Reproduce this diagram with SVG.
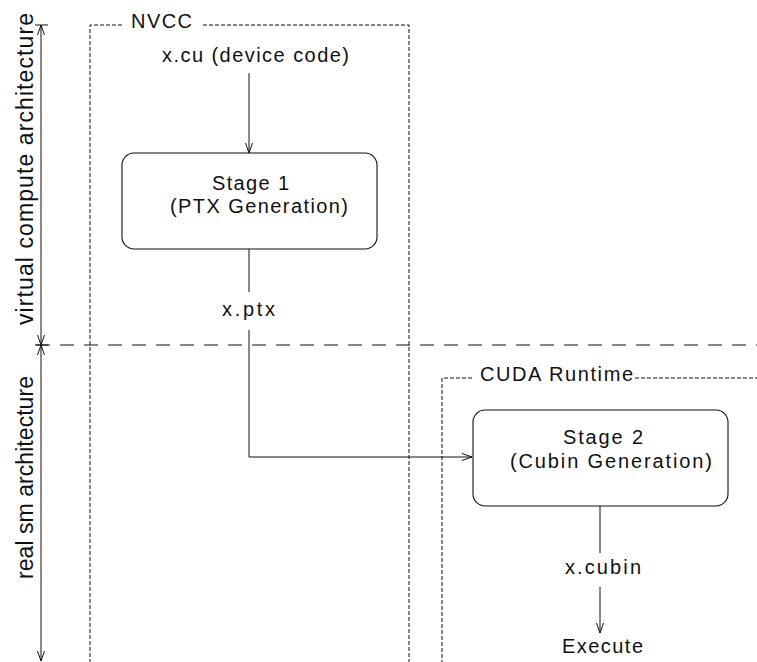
<svg xmlns="http://www.w3.org/2000/svg" width="757" height="662" viewBox="0 0 757 662">
<style>
.t{font-family:"Liberation Sans",Arial,sans-serif;font-size:20px;fill:#111}
.v{font-family:"Liberation Sans",Arial,sans-serif;font-size:23px;fill:#111}
.box{fill:#fff;stroke:#111;stroke-width:1.1}
.fine{fill:none;stroke:#111;stroke-width:1;stroke-dasharray:4 2}
.sep{fill:none;stroke:#111;stroke-width:1.2;stroke-dasharray:14 10}
.c{fill:none;stroke:#111;stroke-width:1}
</style>
<defs>
<marker id="ah" markerUnits="userSpaceOnUse" markerWidth="12" markerHeight="10" viewBox="-1 -5 12 10" refX="10" refY="0" orient="auto-start-reverse">
<path d="M0,-3.5 L10,0 L0,3.5" fill="none" stroke="#111" stroke-width="1"/>
</marker>
</defs>
<rect width="757" height="662" fill="#fff"/>

<g id="separator">
<line class="sep" x1="36" y1="345" x2="757" y2="345"/>
</g>

<g id="nvcc-group">
<path class="fine" d="M122,25 H90 V662"/>
<path class="fine" d="M203,25 H409 V662"/>
<text class="t" x="131" y="28" textLength="61" font-size="19">NVCC</text>
</g>

<g id="cuda-runtime-group">
<path class="fine" d="M472,378 H442 V662"/>
<path class="fine" d="M635,378 H757"/>
<text class="t" x="480" y="381" textLength="153">CUDA Runtime</text>
</g>

<g id="axis">
<line class="c" x1="35" y1="25" x2="48" y2="25"/>
<line class="c" x1="35" y1="345" x2="48" y2="345"/>
<line class="c" x1="41" y1="25" x2="41" y2="345" marker-start="url(#ah)" marker-end="url(#ah)"/>
<line class="c" x1="41" y1="345" x2="41" y2="661" marker-start="url(#ah)" marker-end="url(#ah)"/>
<text class="v" transform="translate(33,325) rotate(-90)" textLength="312">virtual compute architecture</text>
<text class="v" transform="translate(33,579) rotate(-90)" textLength="203">real sm architecture</text>
</g>

<g id="xcu">
<text class="t" x="162" y="62" textLength="187">x.cu (device code)</text>
</g>

<g id="stage1">
<rect class="box" x="122" y="153" width="255" height="96" rx="12"/>
<text class="t" x="212" y="190" textLength="77">Stage 1</text>
<text class="t" x="170" y="213" textLength="178">(PTX Generation)</text>
</g>

<g id="xptx">
<text class="t" x="222" y="316" textLength="53">x.ptx</text>
</g>

<g id="stage2">
<rect class="box" x="473" y="410" width="255" height="96" rx="12"/>
<text class="t" x="563" y="444" textLength="80">Stage 2</text>
<text class="t" x="510" y="468" textLength="202">(Cubin Generation)</text>
</g>

<g id="xcubin">
<text class="t" x="565" y="574" textLength="76">x.cubin</text>
</g>

<g id="execute">
<text class="t" x="562" y="653" textLength="81">Execute</text>
</g>

<g id="connectors">
<line class="c" x1="249" y1="73" x2="249" y2="153" marker-end="url(#ah)"/>
<line class="c" x1="249" y1="249" x2="249" y2="292"/>
<path class="c" d="M249,330 V457 H472" marker-end="url(#ah)"/>
<line class="c" x1="600" y1="506" x2="600" y2="553"/>
<line class="c" x1="600" y1="587" x2="600" y2="633" marker-end="url(#ah)"/>
</g>
</svg>
